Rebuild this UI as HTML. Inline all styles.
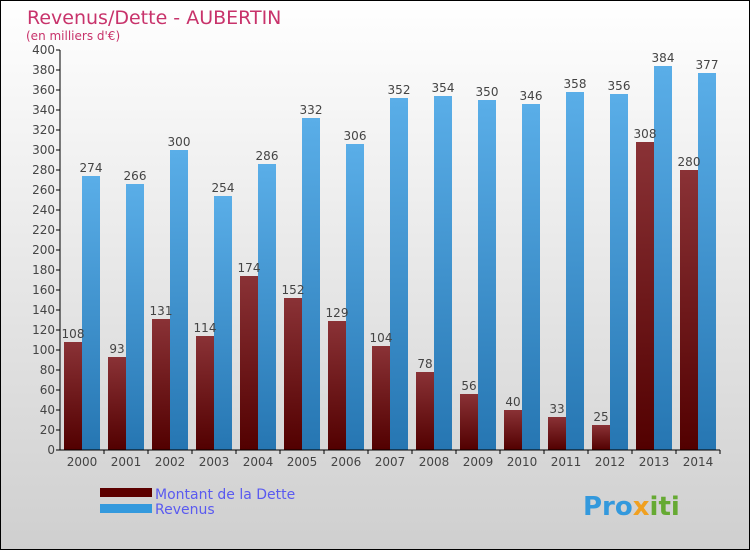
<!DOCTYPE html>
<html><head><meta charset="utf-8"><style>
html,body{margin:0;padding:0}
body{width:750px;height:550px;overflow:hidden;font-family:"DejaVu Sans","Liberation Sans",sans-serif}
</style></head><body>
<svg width="750" height="550" xmlns="http://www.w3.org/2000/svg">
<defs>
<linearGradient id="bg" x1="0" y1="0" x2="0" y2="1"><stop offset="0" stop-color="#ffffff"/><stop offset="1" stop-color="#cfcfcf"/></linearGradient>
<linearGradient id="gd" x1="0" y1="0" x2="0" y2="1"><stop offset="0" stop-color="#8a3236"/><stop offset="1" stop-color="#520000"/></linearGradient>
<linearGradient id="gr" x1="0" y1="0" x2="0" y2="1"><stop offset="0" stop-color="#5aaee8"/><stop offset="1" stop-color="#2676b2"/></linearGradient>
</defs>
<rect x="0.5" y="0.5" width="749" height="549" fill="url(#bg)" stroke="#000"/>
<text x="27" y="24" font-size="19" fill="#c8336b">Revenus/Dette - AUBERTIN</text>
<text x="26" y="40" font-size="12" fill="#c8336b">(en milliers d'€)</text>
<g id="yaxis"></g>
<g id="bars"></g>
<g id="xaxis"></g>
<rect x="100" y="488" width="52" height="9" fill="#5c0000"/>
<text x="155" y="499" font-size="14" fill="#5a5af0">Montant de la Dette</text>
<rect x="100" y="504" width="52" height="9" fill="#3399dd"/>
<text x="155" y="514" font-size="14" fill="#5a5af0">Revenus</text>
<text x="583" y="515" font-size="26" font-weight="bold" fill="#3399dd">Pro<tspan fill="#f0a020">x</tspan><tspan fill="#66aa33">iti</tspan></text>
</svg>
<script>
const years=["2000","2001","2002","2003","2004","2005","2006","2007","2008","2009","2010","2011","2012","2013","2014"];
const dette=[108,93,131,114,174,152,129,104,78,56,40,33,25,308,280];
const revenus=[274,266,300,254,286,332,306,352,354,350,346,358,356,384,377];
const yTicks=[0,20,40,60,80,100,120,140,160,180,200,220,240,260,280,300,320,340,360,380,400];
const NS="http://www.w3.org/2000/svg";
const y0=450,yScale=1,x0=60,pitch=44;
const yv=v=>y0-v*yScale;
const gx=i=>x0+4+i*pitch;
function mk(tag,attrs,parent){const e=document.createElementNS(NS,tag);for(const k in attrs)e.setAttribute(k,attrs[k]);parent.appendChild(e);return e;}
const ya=document.getElementById('yaxis'),bars=document.getElementById('bars'),xa=document.getElementById('xaxis');
mk('line',{x1:x0,y1:yv(400),x2:x0,y2:y0,stroke:'#000'},ya);
yTicks.forEach(t=>{
 mk('line',{x1:x0-4,y1:yv(t),x2:x0,y2:yv(t),stroke:'#000'},ya);
 const tx=mk('text',{x:x0-5,y:yv(t)+4,'font-size':12,fill:'#444','text-anchor':'end'},ya);
 
 
 tx.textContent=t;
});
mk('line',{x1:x0,y1:y0,x2:x0+pitch*years.length,y2:y0,stroke:'#000'},xa);
years.forEach((yr,i)=>{
 const x=gx(i);
 const b1=mk('rect',{x:x,y:yv(dette[i]),width:18,height:dette[i]*yScale,fill:'url(#gd)'},bars);
 
 
 const b2=mk('rect',{x:x+18,y:yv(revenus[i]),width:18,height:revenus[i]*yScale,fill:'url(#gr)'},bars);
 
 
 const l1=mk('text',{x:x+9,y:yv(dette[i])-4,'font-size':12,fill:'#444','text-anchor':'middle'},bars);
 
 
 l1.textContent=dette[i];
 const l2=mk('text',{x:x+27,y:yv(revenus[i])-4,'font-size':12,fill:'#444','text-anchor':'middle'},bars);
 
 
 l2.textContent=revenus[i];
 mk('line',{x1:x0+pitch*(i+1),y1:y0,x2:x0+pitch*(i+1),y2:y0+4,stroke:'#000'},xa);
 const xl=mk('text',{x:x+18,y:y0+16,'font-size':12,fill:'#444','text-anchor':'middle'},xa);
 
 
 xl.textContent=yr;
});
</script>
</body></html>
